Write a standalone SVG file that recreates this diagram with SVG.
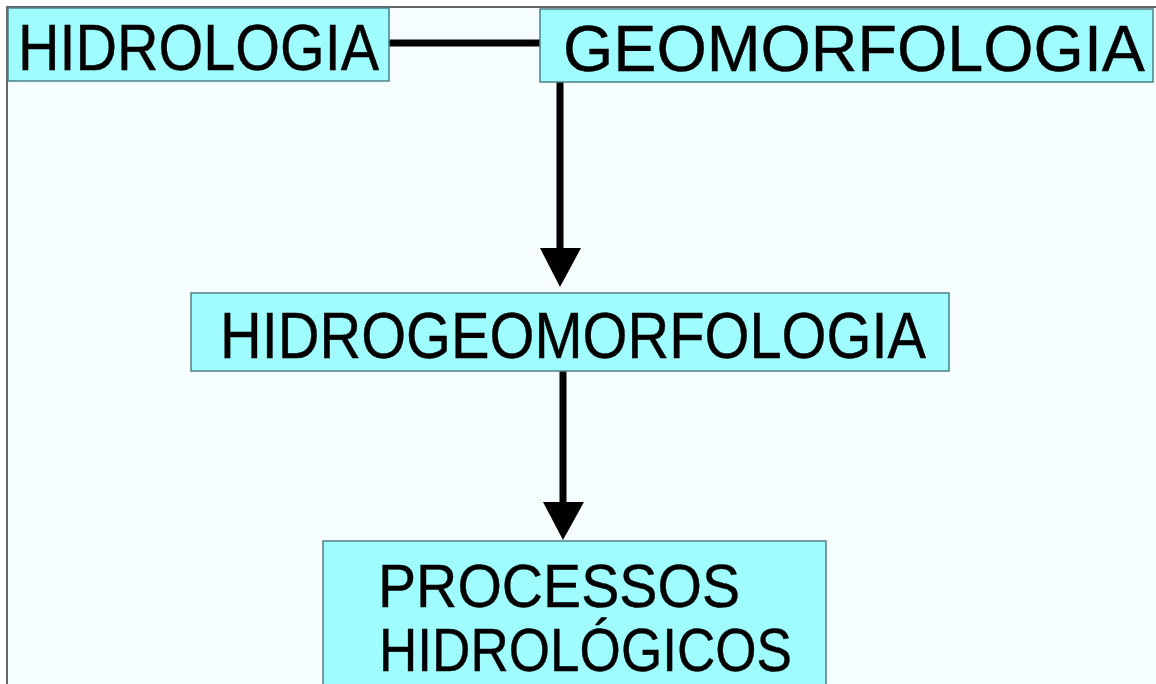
<svg xmlns="http://www.w3.org/2000/svg" width="1156" height="684" viewBox="0 0 1156 684">
  <style>
    .box { fill: #9ffcff; stroke: #4f7f85; stroke-width: 1.5; }
    .lbl { font-family: "Liberation Sans", Arial, sans-serif; font-size: 65px; fill: #000; stroke: #000; stroke-width: 0.4; }
    .lbl2 { font-family: "Liberation Sans", Arial, sans-serif; font-size: 61px; fill: #000; stroke: #000; stroke-width: 0.4; }
    .conn { stroke: #000; stroke-width: 7; fill: none; }
    .head { fill: #000; stroke: none; }
  </style>
  <rect x="0" y="0" width="1156" height="684" fill="#ffffff"/>
  <rect x="7" y="7" width="1160" height="690" fill="#f6fdff" stroke="#333" stroke-width="1.5"/>

  <g id="connectors">
    <line class="conn" x1="389" y1="43" x2="540" y2="43"/>
    <line class="conn" x1="560" y1="82" x2="560" y2="250"/>
    <polygon class="head" points="540,248 581,248 560,287"/>
    <line class="conn" x1="563" y1="371" x2="563" y2="504"/>
    <polygon class="head" points="543,502 584,502 563,540"/>
  </g>

  <g id="hidrologia">
    <rect class="box" x="8" y="8" width="381" height="73"/>
    <text class="lbl" x="18" y="70" textLength="361" lengthAdjust="spacingAndGlyphs">HIDROLOGIA</text>
  </g>

  <g id="geomorfologia">
    <rect class="box" x="540" y="9" width="613" height="73"/>
    <text class="lbl" x="563" y="71" textLength="582" lengthAdjust="spacingAndGlyphs">GEOMORFOLOGIA</text>
  </g>

  <g id="hidrogeomorfologia">
    <rect class="box" x="191" y="293" width="758" height="78"/>
    <text class="lbl" x="220" y="358" textLength="706" lengthAdjust="spacingAndGlyphs">HIDROGEOMORFOLOGIA</text>
  </g>

  <g id="processos">
    <rect class="box" x="323" y="541" width="503" height="160"/>
    <text class="lbl2" x="378" y="607" textLength="362" lengthAdjust="spacingAndGlyphs">PROCESSOS</text>
    <text class="lbl2" x="379" y="671" textLength="413" lengthAdjust="spacingAndGlyphs">HIDROLÓGICOS</text>
  </g>
</svg>
